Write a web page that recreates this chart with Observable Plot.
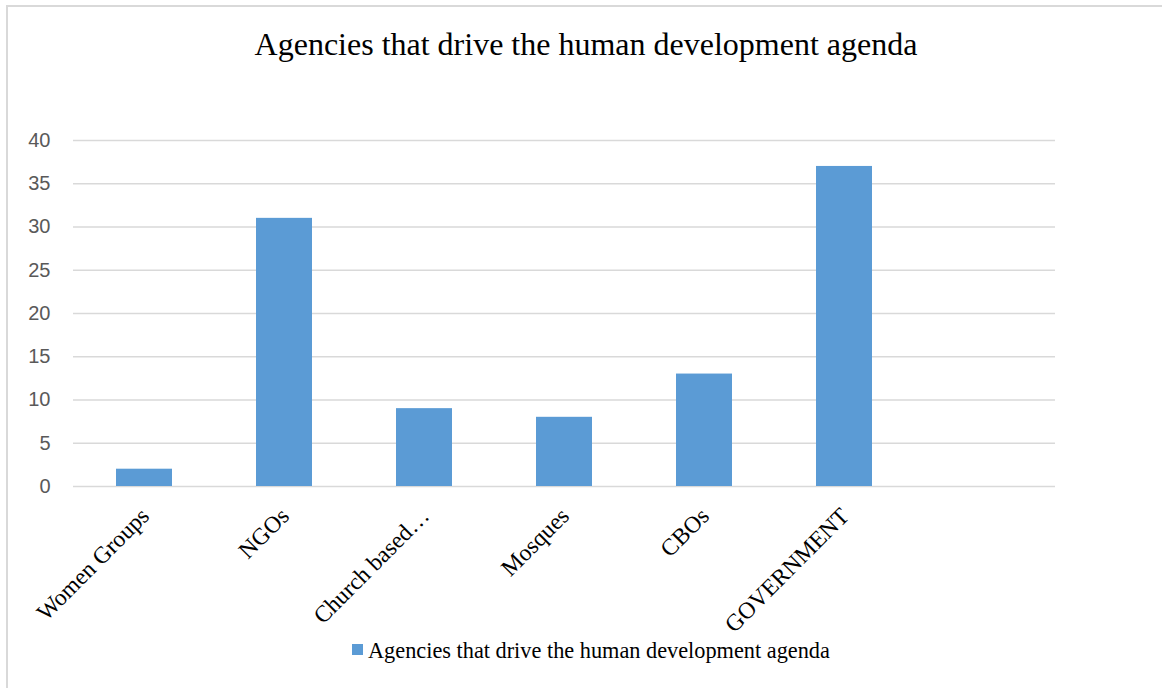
<!DOCTYPE html>
<html>
<head>
<meta charset="utf-8">
<script src="https://cdn.jsdelivr.net/npm/d3@7"></script>
<script src="https://cdn.jsdelivr.net/npm/@observablehq/plot@0.6"></script>
<style>
  html, body { margin: 0; padding: 0; background: #fff; overflow: hidden; }
  #wrap { position: relative; width: 1162px; height: 688px; overflow: hidden; }
  #frame { position: absolute; left: 6px; top: 5px; width: 2000px; height: 2000px;
           border-left: 2px solid #d9d9d9; border-top: 2px solid #d9d9d9; }
  #title { position: absolute; left: 0; top: 28px; width: 1172px; text-align: center;
           font-family: "Liberation Serif", "Times New Roman", serif; font-size: 32px; line-height: 32px; color: #000; }
  #chart { position: absolute; left: 0; top: 100px; }
  #legend { position: absolute; left: 352px; top: 640px; height: 22px;
            font-family: "Liberation Serif", "Times New Roman", serif; font-size: 22.3px; line-height: 22px; color: #000; white-space: nowrap; }
  #legend .sw { position: absolute; left: 0; top: 4px; width: 11px; height: 11px; background: #5b9bd5; }
  #legend .lt { position: absolute; left: 16px; top: 0; }
</style>
</head>
<body>
<div id="wrap">
  <div id="frame"></div>
  <div id="title"></div>
  <div id="chart"></div>
  <div id="legend"><span class="sw"></span><span class="lt"></span></div>
</div>
<script>
const chartTitle = "Agencies that drive the human development agenda";
const seriesName = "Agencies that drive the human development agenda";
const categories = ["Women Groups", "NGOs", "Church based…", "Mosques", "CBOs", "GOVERNMENT"];
const values = [2, 31, 9, 8, 13, 37];
const emptySlot = "(blank)";
const yTicks = [0, 5, 10, 15, 20, 25, 30, 35, 40];

const data = categories.map((c, i) => ({cat: c, value: values[i]}));

document.getElementById("title").textContent = chartTitle;
document.querySelector("#legend .lt").textContent = seriesName;

const plot = Plot.plot({
  width: 1162,
  height: 540,
  marginLeft: 73,
  marginRight: 107,
  marginTop: 40,
  marginBottom: 154,
  style: {background: "transparent", overflow: "visible"},
  x: {domain: [...categories, emptySlot], paddingInner: 0.6, paddingOuter: 0.3, axis: null},
  y: {domain: [0, 40], axis: null},
  marks: [
    Plot.ruleY(yTicks, {stroke: "#d9d9d9", strokeWidth: 1.5}),
    Plot.barY(data, {x: "cat", y: "value", fill: "#5b9bd5"}),
    Plot.axisY({
      ticks: yTicks, tickSize: 0, tickPadding: 23,
      fontSize: 20, fill: "#595959", fontFamily: "Liberation Sans, Arial, sans-serif",
      label: null
    }),
    Plot.text(data, {
      x: "cat", y: () => 0, text: "cat",
      rotate: -45, textAnchor: "end", lineAnchor: "bottom",
      dx: 6, dy: 31,
      fontSize: 23.5, fill: "#000",
      fontFamily: "Liberation Serif, Times New Roman, serif"
    })
  ]
});
document.getElementById("chart").appendChild(plot);
</script>
</body>
</html>
